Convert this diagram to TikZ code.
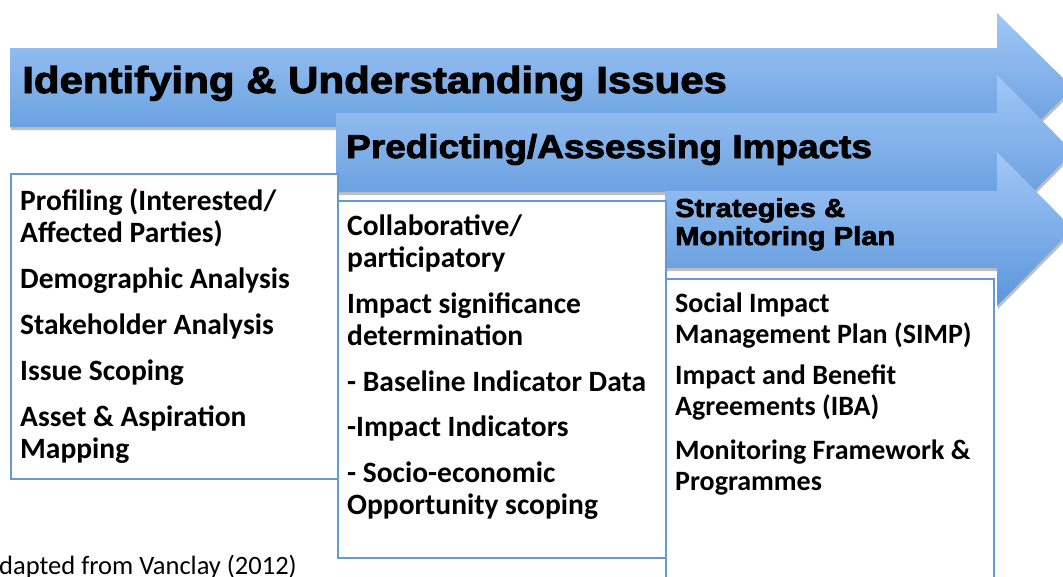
\documentclass[tikz,border=0pt]{standalone}
\usepackage{fontspec}
\setmainfont{Carlito}
\newfontfamily\headfont{Liberation Sans}[BoldFeatures={FakeBold=2.6, FakeStretch=1.12}]
\usetikzlibrary{shadows}
\definecolor{stagetop}{RGB}{162,199,246}
\definecolor{stagebottom}{RGB}{90,150,218}
\definecolor{boxblue}{RGB}{102,152,214}

\begin{document}
\begin{tikzpicture}[
    x=1pt, y=-1pt,
    stage/.style={top color=stagetop, bottom color=stagebottom,
        drop shadow={shadow xshift=1pt, shadow yshift=-3pt, fill=black, opacity=0.25}},
    title/.style={anchor=base west, inner sep=0pt, text width=380pt, align=flush left,
        font=\headfont\bfseries\fontsize{37.5}{44}\selectfont},
    panel/.style={draw=boxblue, line width=1.8pt, fill=white, anchor=north west, inner sep=0pt},
    items/.style={anchor=base west, inner sep=0pt, text width=318pt, align=flush left,
        font=\bfseries\fontsize{29.5}{32}\selectfont}
]
    \clip (0,0) rectangle (1063,576);

    % Stage arrows
    \path[stage] (10,48) -- (997,48) -- (997,13) -- (1073,88) -- (997,163) -- (997,127) -- (10,127) -- cycle;
    \path[stage] (336,113) -- (997,113) -- (997,75) -- (1073,152) -- (997,229) -- (997,192) -- (336,192) -- cycle;
    \path[stage] (665,191) -- (997,191) -- (997,152) -- (1073,229) -- (997,306) -- (997,268) -- (665,268) -- cycle;

    % Stage titles
    \node[title, text width=800pt] (issues) at (22,93) {Identifying \& Understanding Issues};
    \node[title, text width=600pt, font=\headfont\bfseries\fontsize{33}{38}\selectfont] (impacts) at (346,158) {Predicting/Assessing Impacts};
    \node[title, text width=300pt, font=\headfont\bfseries\fontsize{26}{28}\selectfont] (strategies) at (675,217) {Strategies \&\\Monitoring Plan};

    % Panels
    \node[panel, minimum width=327pt, minimum height=305pt] (profiling) at (10,173) {};
    \node[panel, minimum width=328pt, minimum height=357pt] (assessing) at (337,200) {};
    \node[panel, minimum width=328pt, minimum height=320pt] (planning) at (665,278) {};

    % Panel contents
    \node[items] (profilingtext) at (20,210) {Profiling (Interested/\\Affected Parties)\\[14pt]
        Demographic Analysis\\[14pt] Stakeholder Analysis\\[14pt] Issue Scoping\\[14pt]
        Asset \& Aspiration\\Mapping};
    \node[items, font=\bfseries\fontsize{29.5}{32.5}\selectfont] (assessingtext) at (347,235) {Collaborative/\\participatory\\[13pt]
        Impact significance\\determination\\[13pt] - Baseline Indicator Data\\[13pt]
        -Impact Indicators\\[13pt] - Socio-economic\\Opportunity scoping};
    \node[items, font=\bfseries\fontsize{28}{31}\selectfont] (planningtext) at (675,312) {Social Impact\\Management Plan (SIMP)\\[10pt]
        Impact and Benefit\\Agreements (IBA)\\[13pt] Monitoring Framework \&\\Programmes};

    % Source
    \node[anchor=base west, inner sep=0pt, font=\fontsize{26.5}{30}\selectfont] (source) at (-1,574) {dapted from Vanclay (2012)};
\end{tikzpicture}
\end{document}
